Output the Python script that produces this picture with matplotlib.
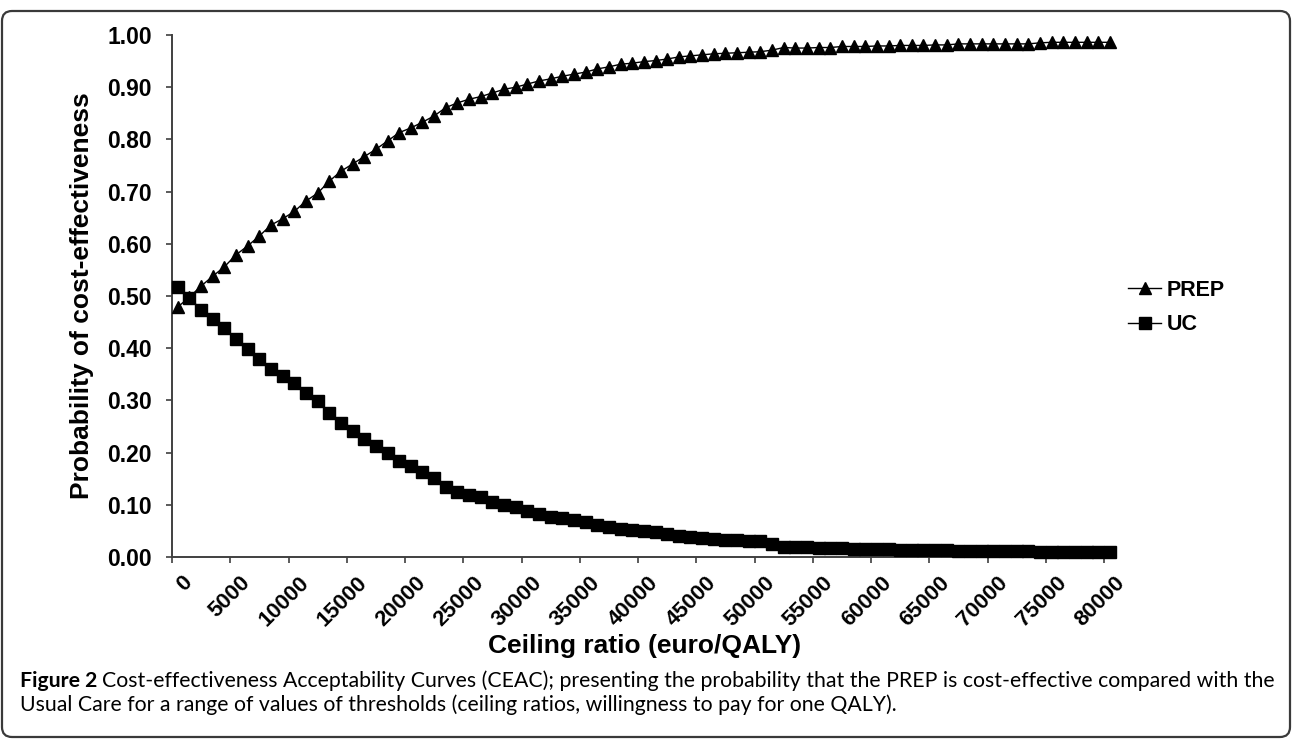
import matplotlib
matplotlib.use('Agg')
import matplotlib.pyplot as plt
from matplotlib.patches import FancyBboxPatch
from matplotlib.transforms import ScaledTranslation
from matplotlib.lines import Line2D

# ---------------- data ----------------
ceiling = list(range(0, 80001, 1000))
prep = [0.479, 0.498, 0.519, 0.538, 0.556, 0.579, 0.596, 0.615, 0.636, 0.648,
        0.662, 0.682, 0.697, 0.720, 0.739, 0.753, 0.767, 0.781, 0.797, 0.813,
        0.822, 0.833, 0.845, 0.861, 0.870, 0.877, 0.882, 0.889, 0.896, 0.900,
        0.906, 0.912, 0.916, 0.921, 0.925, 0.929, 0.935, 0.939, 0.944, 0.946,
        0.949, 0.951, 0.954, 0.958, 0.960, 0.962, 0.964, 0.965, 0.966, 0.967,
        0.968, 0.971, 0.976, 0.975, 0.975, 0.976, 0.976, 0.978, 0.978, 0.978,
        0.979, 0.979, 0.980, 0.980, 0.980, 0.981, 0.981, 0.983, 0.983, 0.983,
        0.983, 0.983, 0.983, 0.983, 0.985, 0.986, 0.986, 0.986, 0.986, 0.986,
        0.986]
uc = [0.518, 0.497, 0.473, 0.455, 0.438, 0.417, 0.398, 0.379, 0.360, 0.347,
      0.334, 0.314, 0.298, 0.275, 0.256, 0.242, 0.227, 0.213, 0.199, 0.183,
      0.174, 0.162, 0.151, 0.135, 0.124, 0.119, 0.114, 0.106, 0.100, 0.095,
      0.088, 0.082, 0.077, 0.075, 0.071, 0.067, 0.062, 0.058, 0.054, 0.052,
      0.049, 0.047, 0.044, 0.040, 0.038, 0.036, 0.034, 0.033, 0.032, 0.031,
      0.030, 0.024, 0.020, 0.020, 0.019, 0.018, 0.017, 0.017, 0.016, 0.015,
      0.015, 0.015, 0.014, 0.013, 0.013, 0.013, 0.013, 0.012, 0.012, 0.012,
      0.012, 0.012, 0.012, 0.012, 0.010, 0.010, 0.010, 0.010, 0.010, 0.010,
      0.010]
series_names = ['PREP', 'UC']
x_tick_values = list(range(0, 80001, 5000))
x_tick_labels = [str(v) for v in x_tick_values]
y_tick_values = [i / 10 for i in range(11)]
y_tick_labels = ['%.2f' % v for v in y_tick_values]
x_title = 'Ceiling ratio (euro/QALY)'
y_title = 'Probability of cost-effectiveness'
caption_bold = 'Figure 2'
caption_line1 = ('Cost-effectiveness Acceptability Curves (CEAC); presenting the probability '
                 'that the PREP is cost-effective compared with the')
caption_line2 = ('Usual Care for a range of values of thresholds (ceiling ratios, '
                 'willingness to pay for one QALY).')

# ---------------- figure ----------------
W, H = 1292, 740
DPI = 100
plt.rcParams['font.family'] = ['Liberation Sans', 'DejaVu Sans']
fig = plt.figure(figsize=(W / DPI, H / DPI), dpi=DPI)
fig.patch.set_facecolor('white')

def px(x, y):
    return x / W, 1 - y / H

ax_left, ax_top, ax_right, ax_bottom = 172, 35, 1115.7, 557
ax = fig.add_axes([ax_left / W, 1 - ax_bottom / H, (ax_right - ax_left) / W,
                   (ax_bottom - ax_top) / H])
ax.set_facecolor('white')

ax.plot(ceiling, prep, color='black', lw=1.0, marker='^', ms=8.8,
        mfc='black', mec='black', clip_on=False, zorder=3)
ax.plot(ceiling, uc, color='black', lw=1.0, marker='s', ms=8.2,
        mfc='black', mec='black', clip_on=False, zorder=4)

step = ceiling[1] - ceiling[0]
ax.set_xlim(ceiling[0] - step / 2, ceiling[-1] + step / 2)
ax.set_ylim(0, 1)

for s in ['top', 'right']:
    ax.spines[s].set_visible(False)
for s in ['left', 'bottom']:
    ax.spines[s].set_color('#404040')
    ax.spines[s].set_linewidth(1.4)

# x ticks: marks between categories, labels at categories
boundaries = [v - step / 2 for v in x_tick_values]
ax.set_xticks(boundaries)
ax.set_xticklabels([''] * len(boundaries))
ax.tick_params(axis='x', which='major', length=4.5, width=1.2, color='#404040',
               direction='out')
ax.set_xticks(x_tick_values, minor=True)
ax.set_xticklabels(x_tick_labels, minor=True, rotation=45, ha='right', va='top',
                   rotation_mode='anchor', fontsize=15.8, fontweight='bold')
ax.tick_params(axis='x', which='minor', length=0, pad=11)
off = ScaledTranslation(4 / DPI, 0, fig.dpi_scale_trans)
for lab in ax.get_xticklabels(minor=True):
    lab.set_transform(lab.get_transform() + off)

ax.set_yticks(y_tick_values)
ax.set_yticklabels(y_tick_labels, fontsize=16.5, fontweight='bold')
ax.tick_params(axis='y', length=4.5, width=1.2, color='#404040', direction='out',
               pad=10)

# axis titles
fig.text(*px(645, 646), x_title, ha='center', va='center', fontsize=19,
         fontweight='bold')
fig.text(*px(82, 296), y_title, ha='center', va='center', rotation=90,
         fontsize=19, fontweight='bold')

# legend
handles = [Line2D([], [], color='black', lw=1.0, marker='^', ms=8.8,
                  mfc='black', mec='black'),
           Line2D([], [], color='black', lw=1.0, marker='s', ms=8.2,
                  mfc='black', mec='black')]
leg = fig.legend(handles, series_names, loc='upper left',
                 bbox_to_anchor=px(1128, 280), bbox_transform=fig.transFigure,
                 frameon=False, borderpad=0, borderaxespad=0,
                 handlelength=1.55, handletextpad=0.25, labelspacing=0.62,
                 prop={'weight': 'bold', 'size': 15.5})

# caption
cap_font = ['Lato', 'DejaVu Sans']
cap_size = 12.5
y1, y2 = 681, 705
t_bold = fig.text(*px(20, y1), caption_bold + ' ', ha='left', va='center',
                  fontsize=cap_size, fontweight='bold', family=cap_font)
fig.canvas.draw()
r = fig.canvas.get_renderer()
bb = t_bold.get_window_extent(r)
t1 = fig.text(bb.x1 / W, 1 - y1 / H, caption_line1, ha='left', va='center',
              fontsize=cap_size, family=cap_font)
fig.canvas.draw()
bb1 = t1.get_window_extent(r)
target = 1272
scale = (target - 20) / (bb1.x1 - 20)
new_size = cap_size * scale
t_bold.set_fontsize(new_size)
fig.canvas.draw()
bb = t_bold.get_window_extent(r)
t1.set_fontsize(new_size)
t1.set_x(bb.x1 / W)
fig.text(*px(20, y2), caption_line2, ha='left', va='center',
         fontsize=new_size, family=cap_font)

# rounded border
border = FancyBboxPatch((2 / DPI, 3 / DPI), (1288) / DPI, (726) / DPI,
                        boxstyle='round,pad=0,rounding_size=0.1',
                        transform=fig.dpi_scale_trans, fill=False,
                        edgecolor='#3a3a3a', linewidth=1.6)
fig.patches.append(border)

fig.savefig('out.png', dpi=DPI, facecolor='white')
